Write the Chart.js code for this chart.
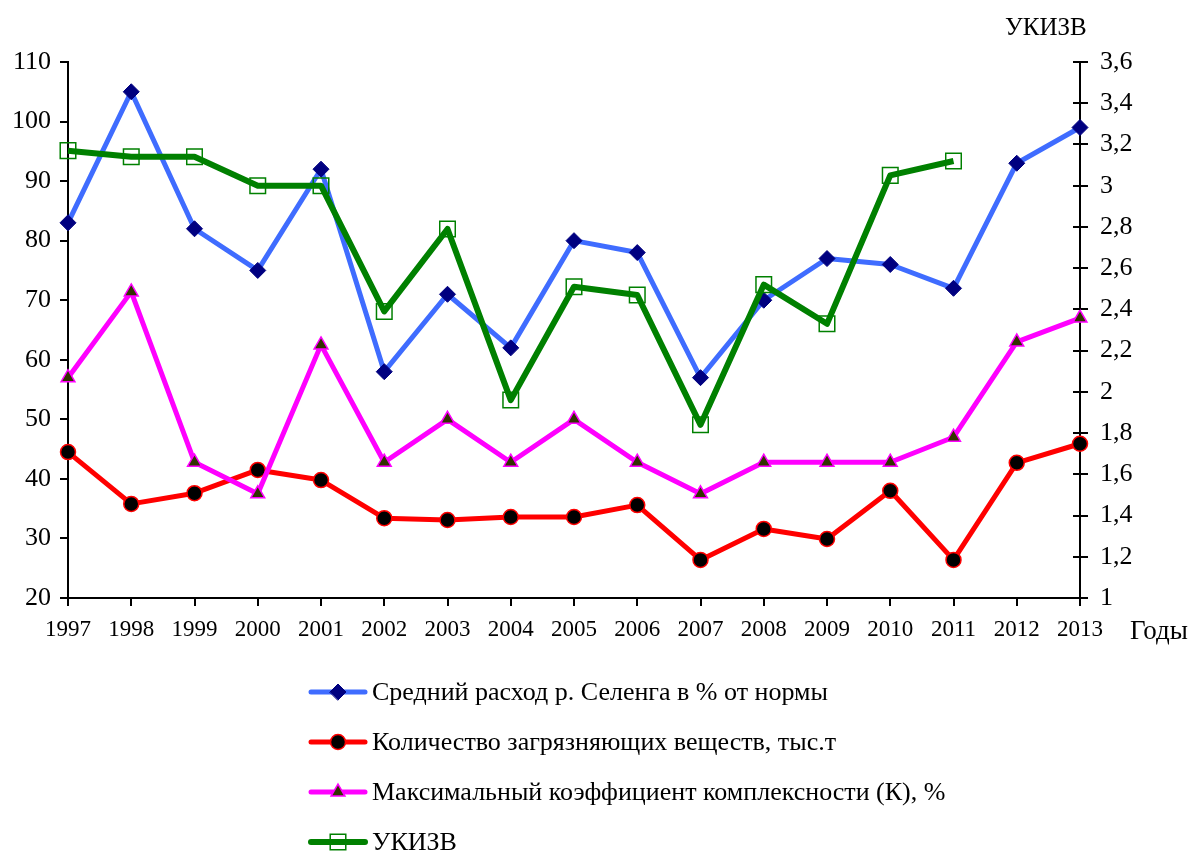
<!DOCTYPE html>
<html lang="ru">
<head>
<meta charset="utf-8">
<title>Селенга</title>
<script src="https://cdn.jsdelivr.net/npm/chart.js@4/dist/chart.umd.min.js"></script>
<style>
  body { margin: 0; background: #fff; }
  #wrap { width: 1189px; height: 852px; position: relative; }
</style>
</head>
<body>
<div id="wrap"><canvas id="chart"></canvas></div>
<script>
// Годы и ряды
const years = ["1997", "1998", "1999", "2000", "2001", "2002", "2003", "2004", "2005",
  "2006", "2007", "2008", "2009", "2010", "2011", "2012", "2013"];

const flowPct = [83, 105, 82, 75, 92, 58, 71, 62, 80, 78, 57, 70, 77, 76, 72, 93, 99];
const pollutants = [44.5, 35.8, 37.6, 41.5, 39.8, 33.4, 33.1, 33.6, 33.6, 35.6, 26.4, 31.6, 29.9, 38, 26.4, 42.7, 45.9];
const maxK = [57, 71.4, 42.8, 37.5, 62.5, 42.8, 50, 42.8, 50, 42.8, 37.5, 42.8, 42.8, 42.8, 47, 63, 67];
const ukizv = [3.17, 3.14, 3.14, 3.0, 3.0, 2.39, 2.79, 1.96, 2.51, 2.47, 1.84, 2.52, 2.33, 3.05, 3.12, null, null];

const seriesNames = [
  "Средний расход р. Селенга в % от нормы",
  "Количество загрязняющих веществ, тыс.т",
  "Максимальный коэффициент комплексности (К), %",
  "УКИЗВ"
];

const FONT = "'Liberation Serif', 'DejaVu Serif', serif";

function marker(ctx, style, x, y, r, fill, stroke, bw) {
  ctx.save();
  ctx.beginPath();
  if (style === "circle") {
    ctx.arc(x, y, r, 0, Math.PI * 2);
  } else if (style === "rectRot") {
    ctx.moveTo(x - r, y); ctx.lineTo(x, y - r); ctx.lineTo(x + r, y); ctx.lineTo(x, y + r);
    ctx.closePath();
  } else if (style === "triangle") {
    ctx.moveTo(x, y - r);
    ctx.lineTo(x + r * Math.sin(Math.PI / 3), y + r / 2);
    ctx.lineTo(x - r * Math.sin(Math.PI / 3), y + r / 2);
    ctx.closePath();
  } else {
    const s = Math.SQRT1_2 * r;
    ctx.rect(x - s, y - s, 2 * s, 2 * s);
  }
  ctx.fillStyle = fill;
  ctx.fill();
  ctx.lineWidth = bw;
  ctx.strokeStyle = stroke;
  ctx.stroke();
  ctx.restore();
}

// подписи осей и легенда снизу
const extras = {
  id: "extras",
  afterDraw(chart) {
    const ctx = chart.ctx;
    const area = chart.chartArea;
    ctx.save();
    ctx.fillStyle = "#000";
    ctx.font = "27px " + FONT;
    ctx.textBaseline = "middle";
    ctx.textAlign = "left";
    ctx.fillText("Годы", 1130, 632);
    ctx.font = "25px " + FONT;
    ctx.fillText("УКИЗВ", 1005, 28);

    // внутренняя часть засечек правой оси
    const yr = chart.scales.yRight;
    ctx.strokeStyle = "#000";
    ctx.lineWidth = 2;
    yr.ticks.forEach(t => {
      const y = Math.round(yr.getPixelForValue(t.value));
      ctx.beginPath();
      ctx.moveTo(area.right - 7, y);
      ctx.lineTo(area.right, y);
      ctx.stroke();
    });

    chart.data.datasets.forEach((ds, i) => {
      const y = 692 + i * 50;
      ctx.beginPath();
      ctx.lineWidth = ds.borderWidth;
      ctx.strokeStyle = ds.borderColor;
      ctx.lineCap = "round";
      ctx.moveTo(311, y);
      ctx.lineTo(365, y);
      ctx.stroke();
      marker(ctx, ds.pointStyle, 338, y, ds.pointRadius, ds.pointBackgroundColor,
        ds.pointBorderColor, ds.pointBorderWidth);
      ctx.fillStyle = "#000";
      ctx.font = "26px " + FONT;
      ctx.fillText(seriesNames[i], 372, y + 1);
    });
    ctx.restore();
  }
};

const axisTicks = { color: "#000", font: { family: FONT, size: 26 } };

new Chart(document.getElementById("chart"), {
  type: "line",
  data: {
    labels: years,
    datasets: [
      {
        label: seriesNames[0], data: flowPct, yAxisID: "y",
        borderColor: "#3f6cff", borderWidth: 5,
        pointStyle: "rectRot", pointRadius: 8,
        pointBackgroundColor: "#000080", pointBorderColor: "#000080", pointBorderWidth: 1,
        order: 2
      },
      {
        label: seriesNames[1], data: pollutants, yAxisID: "y",
        borderColor: "#ff0000", borderWidth: 5,
        pointStyle: "circle", pointRadius: 7.5,
        pointBackgroundColor: "#000000", pointBorderColor: "#ff0000", pointBorderWidth: 1.5,
        order: 4
      },
      {
        label: seriesNames[2], data: maxK, yAxisID: "y",
        borderColor: "#ff00ff", borderWidth: 5,
        pointStyle: "triangle", pointRadius: 8,
        pointBackgroundColor: "#333300", pointBorderColor: "#ff00ff", pointBorderWidth: 1.5,
        order: 3
      },
      {
        label: seriesNames[3], data: ukizv, yAxisID: "yRight",
        borderColor: "#008000", borderWidth: 6,
        pointStyle: "rect", pointRadius: 11,
        pointBackgroundColor: "rgba(255,255,255,0)", pointBorderColor: "#008000", pointBorderWidth: 1.5,
        order: 1
      }
    ]
  },
  options: {
    responsive: true,
    maintainAspectRatio: false,
    animation: false,
    spanGaps: false,
    elements: { line: { tension: 0, borderJoinStyle: "round" } },
    layout: { padding: { top: 62, left: 0, right: 0, bottom: 0 } },
    plugins: { legend: { display: false }, tooltip: { enabled: false } },
    scales: {
      x: {
        offset: false,
        afterFit: s => { s.height = 254; },
        grid: { drawOnChartArea: false, color: "#000", lineWidth: 2, tickLength: 8 },
        border: { color: "#000", width: 2 },
        ticks: { color: "#000", font: { family: FONT, size: 23 }, padding: 10, maxRotation: 0, autoSkip: false }
      },
      y: {
        position: "left",
        min: 20, max: 110,
        afterFit: s => { s.width = 68; },
        grid: { drawOnChartArea: false, color: "#000", lineWidth: 2, tickLength: 8 },
        border: { color: "#000", width: 2 },
        ticks: Object.assign({ stepSize: 10, padding: 9 }, axisTicks)
      },
      yRight: {
        position: "right",
        min: 1, max: 3.6,
        afterFit: s => { s.width = 109; },
        grid: { drawOnChartArea: false, color: "#000", lineWidth: 2, tickLength: 8 },
        border: { color: "#000", width: 2 },
        ticks: Object.assign({
          stepSize: 0.2, padding: 12,
          callback: v => String(Math.round(v * 10) / 10).replace(".", ",")
        }, axisTicks)
      }
    }
  },
  plugins: [extras]
});
</script>
</body>
</html>
